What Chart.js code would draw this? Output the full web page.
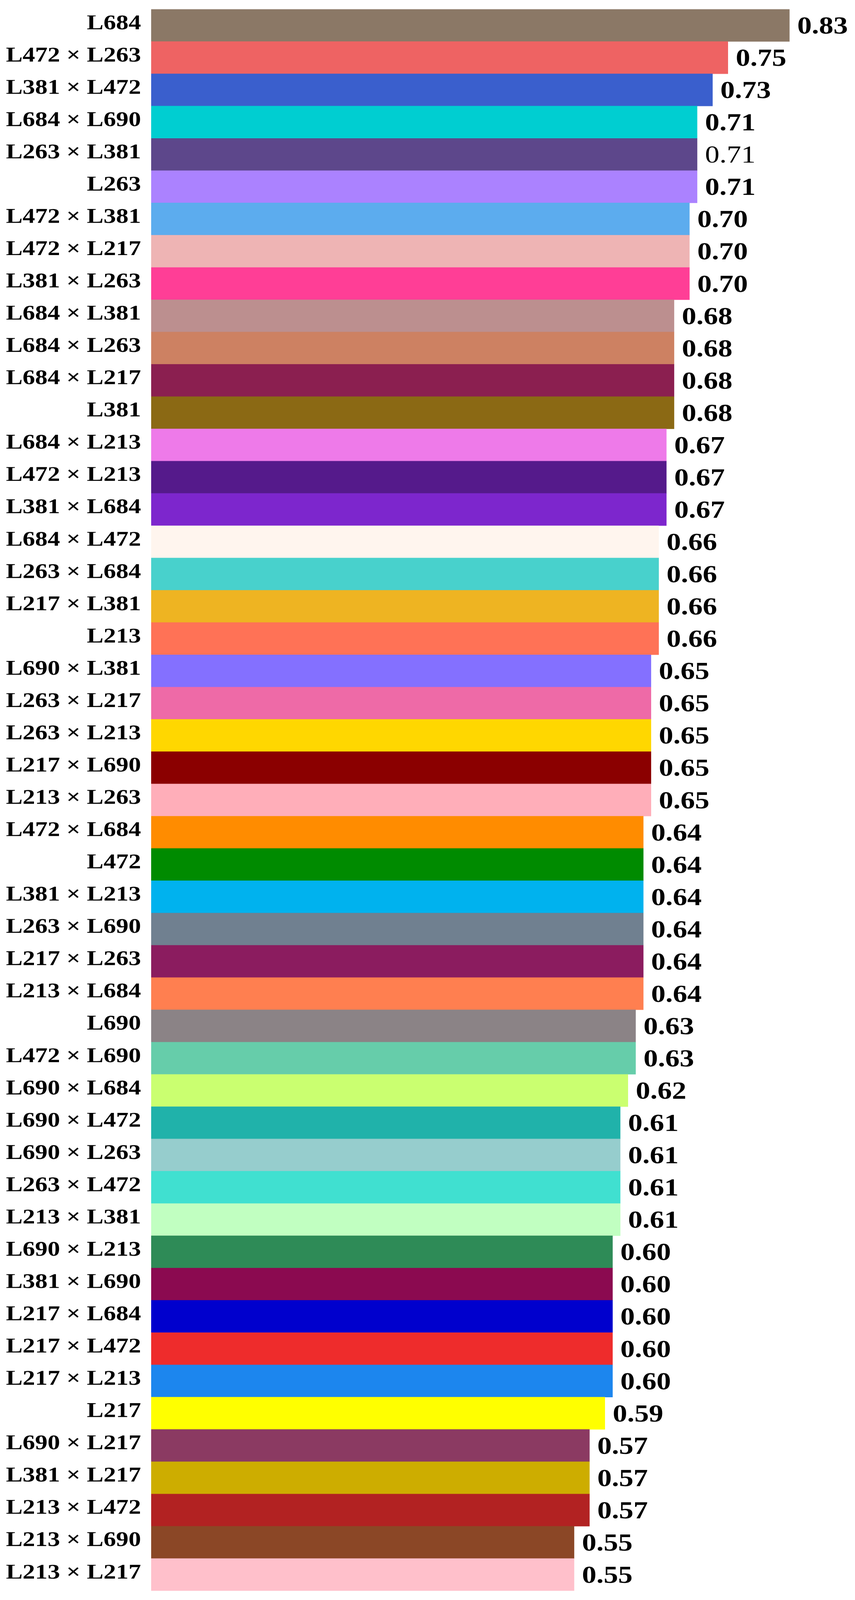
<!DOCTYPE html>
<html>
<head>
<meta charset="utf-8">
<script src="https://cdn.jsdelivr.net/npm/chart.js@4/dist/chart.umd.min.js"></script>
<style>
  html, body { margin: 0; padding: 0; background: #fff; overflow: hidden; }
  canvas { display: block; }
</style>
</head>
<body>
<canvas id="wheel" width="2189" height="4861"></canvas>
<script>
// categories, top to bottom
const crosses = [
  "L684", "L472 × L263", "L381 × L472", "L684 × L690", "L263 × L381", "L263",
  "L472 × L381", "L472 × L217", "L381 × L263", "L684 × L381", "L684 × L263",
  "L684 × L217", "L381", "L684 × L213", "L472 × L213", "L381 × L684",
  "L684 × L472", "L263 × L684", "L217 × L381", "L213", "L690 × L381",
  "L263 × L217", "L263 × L213", "L217 × L690", "L213 × L263", "L472 × L684",
  "L472", "L381 × L213", "L263 × L690", "L217 × L263", "L213 × L684", "L690",
  "L472 × L690", "L690 × L684", "L690 × L472", "L690 × L263", "L263 × L472",
  "L213 × L381", "L690 × L213", "L381 × L690", "L217 × L684", "L217 × L472",
  "L217 × L213", "L217", "L690 × L217", "L381 × L217", "L213 × L472",
  "L213 × L690", "L213 × L217"
];

const scores = [
  0.83, 0.75, 0.73, 0.71, 0.71, 0.71,
  0.70, 0.70, 0.70, 0.68, 0.68,
  0.68, 0.68, 0.67, 0.67, 0.67,
  0.66, 0.66, 0.66, 0.66, 0.65,
  0.65, 0.65, 0.65, 0.65, 0.64,
  0.64, 0.64, 0.64, 0.64, 0.64, 0.63,
  0.63, 0.62, 0.61, 0.61, 0.61,
  0.61, 0.60, 0.60, 0.60, 0.60,
  0.60, 0.59, 0.57, 0.57, 0.57,
  0.55, 0.55
];

const barColors = [
  "#8B7866", "#EE6363", "#3A5FCD", "#00CED1", "#5D478B", "#AB82FF",
  "#5CACEE", "#EEB4B4", "#FF3E96", "#BC8F8F", "#CD8162",
  "#8B1F50", "#8B6914", "#EE7AE9", "#551A8B", "#7D26CD",
  "#FFF5EE", "#48D1CC", "#EEB422", "#FF7256", "#8470FF",
  "#EE6AA7", "#FFD700", "#8B0000", "#FFAEB9", "#FF8C00",
  "#008B00", "#00B2EE", "#708090", "#8B1C5F", "#FF7F50", "#8B8386",
  "#66CDAA", "#CAFF70", "#20B2AA", "#96CDCD", "#40E0D0",
  "#C1FFC1", "#2E8B57", "#8B0A50", "#0000CD", "#EE2C2C",
  "#1C86EE", "#FFFF00", "#8B3A62", "#CDAD00", "#B22222",
  "#8B4726", "#FFC0CB"
];

// the one value printed in regular weight in the original
const plainValues = [4];

const wheel = document.getElementById("wheel");
// window may be shorter than the picture, so fit the whole thing in
const shownHeight = Math.min(window.innerHeight || 4861, 4861);
wheel.style.width = "2189px";
wheel.style.height = shownHeight + "px";

// draws the number at the end of each bar
const valueLabels = {
  id: "valueLabels",
  afterDatasetsDraw(chart) {
    const ctx = chart.ctx;
    const meta = chart.getDatasetMeta(0);
    ctx.save();
    ctx.fillStyle = "#000";
    ctx.textAlign = "left";
    ctx.textBaseline = "alphabetic";
    meta.data.forEach((bar, i) => {
      const weight = plainValues.includes(i) ? "normal" : "bold";
      ctx.font = weight + " 74px 'Liberation Serif', serif";
      const txt = scores[i].toFixed(2);
      const m = ctx.measureText(txt);
      ctx.fillText(txt, bar.x + 20, bar.y + m.actualBoundingBoxAscent / 2);
    });
    ctx.restore();
  }
};

const myChart = new Chart(wheel, {
  type: "bar",
  plugins: [valueLabels],
  data: {
    labels: crosses,
    datasets: [{
      data: scores,
      backgroundColor: barColors,
      borderWidth: 0,
      barPercentage: 1,
      categoryPercentage: 1
    }]
  },
  options: {
    indexAxis: "y",
    responsive: false,
    devicePixelRatio: 1,
    animation: false,
    layout: { padding: { top: 28, bottom: 28, right: 30, left: 0 } },
    plugins: {
      legend: { display: false },
      tooltip: { enabled: false }
    },
    scales: {
      x: {
        display: false,
        min: 0,
        max: 0.9
      },
      y: {
        grid: { display: false, drawTicks: false },
        border: { display: false },
        ticks: {
          color: "#000",
          padding: 26,
          labelOffset: -5,
          autoSkip: false,
          font: { family: "'Liberation Serif', serif", size: 64, weight: "bold" }
        },
        afterFit(scale) {
          scale.width = 387;
          // no extra room for half labels at the ends
          scale.paddingTop = 0;
          scale.paddingBottom = 0;
        }
      }
    }
  }
});
</script>
</body>
</html>
